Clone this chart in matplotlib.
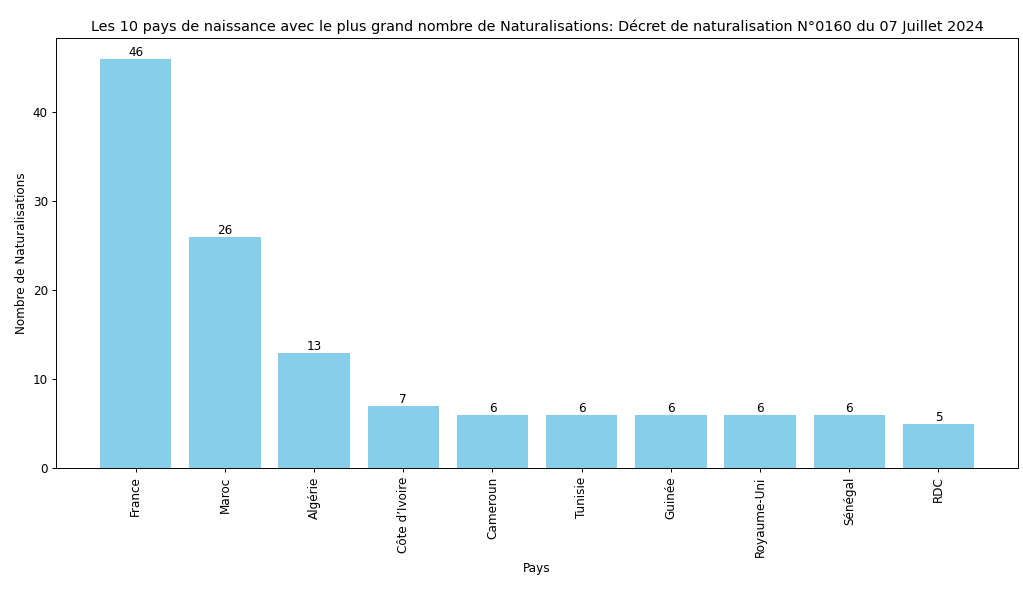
import matplotlib
matplotlib.use("Agg")
import matplotlib.pyplot as plt

pays = ["France", "Maroc", "Algérie", "Côte d’Ivoire", "Cameroun", "Tunisie",
        "Guinée", "Royaume-Uni", "Sénégal", "RDC"]
naturalisations = [46, 26, 13, 7, 6, 6, 6, 6, 6, 5]

dpi = 1024 / 11.87
fig, ax = plt.subplots(figsize=(1024 / dpi, 598 / dpi), dpi=dpi)
bars = ax.bar(pays, naturalisations, color="skyblue")

for b, v in zip(bars, naturalisations):
    ax.text(b.get_x() + b.get_width() / 2, b.get_height(), str(v),
            ha="center", va="bottom", fontsize=10)

ax.set_title("Les 10 pays de naissance avec le plus grand nombre de Naturalisations: "
             "Décret de naturalisation N°0160 du 07 Juillet 2024", fontsize=12)
ax.set_xlabel("Pays")
ax.set_ylabel("Nombre de Naturalisations")
plt.xticks(rotation=90)

fig.subplots_adjust(left=0.055, right=0.994, top=0.936, bottom=0.217)
fig.savefig("out.png", dpi=dpi)
